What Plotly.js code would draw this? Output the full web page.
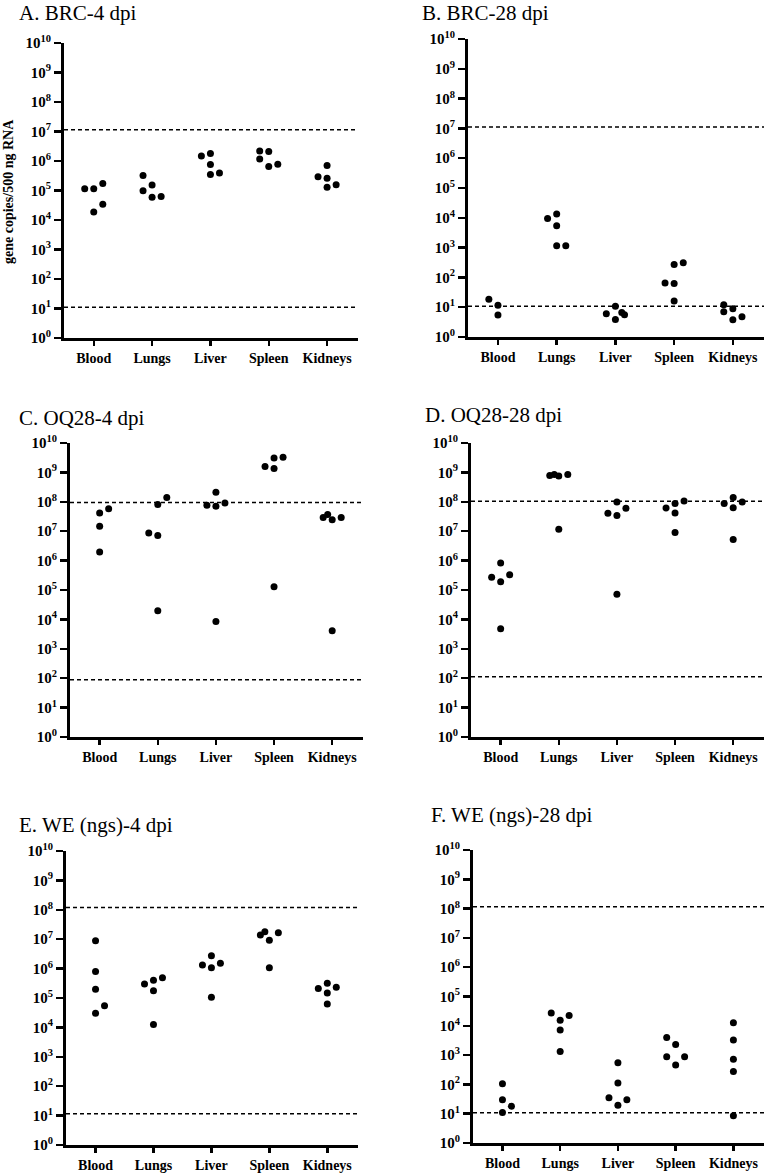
<!DOCTYPE html>
<html>
<head>
<meta charset="utf-8">
<script src="https://cdn.plot.ly/plotly-3.0.1.min.js"></script>
<style>
  body { margin: 0; background: #fff; }
  #chart { width: 767px; height: 1174px; }
</style>
</head>
<body>
<div id="chart"></div>
<script>
// organs on the x axis
var organs = ['Blood', 'Lungs', 'Liver', 'Spleen', 'Kidneys'];
var panelTitles = ['A. BRC-4 dpi', 'B. BRC-28 dpi', 'C. OQ28-4 dpi',
                   'D. OQ28-28 dpi', 'E. WE (ngs)-4 dpi', 'F. WE (ngs)-28 dpi'];

// gene copies per organ (one list per organ)
var valsA = [[1.15e5, 1.15e5, 1.74e5, 1.86e4, 3.4e4],
             [3.2e5, 1.55e5, 9.8e4, 5.9e4, 6.3e4],
             [1.48e6, 1.78e6, 7.6e5, 3.5e5, 3.9e5],
             [2.2e6, 2.1e6, 1.17e6, 6.5e5, 7.8e5],
             [7.1e5, 2.95e5, 2.6e5, 1.29e5, 1.58e5]];
var valsB = [[18.6, 11.7, 5.5],
             [9.5e3, 1.35e4, 5.4e3, 1.15e3, 1.15e3],
             [10.7, 6.0, 6.6, 5.6, 3.9],
             [65, 63, 270, 310, 16],
             [12, 7.1, 8.9, 3.8, 4.8]];
var valsC = [[4.2e7, 5.8e7, 1.48e7, 1.95e6],
             [8.1e7, 1.41e8, 8.7e6, 7.2e6, 1.95e4],
             [2.1e8, 7.6e7, 7.1e7, 9.1e7, 8.5e3],
             [1.58e9, 3.1e9, 3.3e9, 1.35e9, 1.29e5],
             [2.9e7, 3.7e7, 2.45e7, 2.9e7, 4.1e3]];
var valsD = [[2.7e5, 8.3e5, 1.9e5, 3.3e5, 4.8e3],
             [7.9e8, 8.5e8, 7.6e8, 8.5e8, 1.17e7],
             [9.8e7, 4.1e7, 3.4e7, 6.0e7, 7.1e4],
             [6.2e7, 8.7e7, 1.07e8, 4.2e7, 9.1e6],
             [8.7e7, 1.41e8, 6.3e7, 9.8e7, 5.2e6]];
var valsE = [[8.9e6, 7.9e5, 2.0e5, 5.4e4, 3.0e4],
             [3.0e5, 4.0e5, 4.9e5, 1.78e5, 1.26e4],
             [2.75e6, 1.32e6, 1.07e6, 1.51e6, 1.07e5],
             [1.38e7, 1.78e7, 9.3e6, 1.66e7, 1.07e6],
             [2.1e5, 3.2e5, 2.3e5, 1.48e5, 6.2e4]];
var valsF = [[105, 30, 18, 11],
             [2.75e4, 1.55e4, 2.24e4, 7.2e3, 1.32e3],
             [550, 112, 35, 30, 19.5],
             [4.0e3, 2.3e3, 870, 870, 457],
             [1.26e4, 3.3e3, 720, 275, 8.5]];

// column slot of each dot inside its organ (-1 left, 0 centre, 1 right)
var slotA = [[-1, 0, 1, 0, 1], [-1, 0, -1, 0, 1], [-1, 0, 0, 0, 1], [-1, 0, -1, 0, 1], [0, -1, 0, 0, 1]];
var slotB = [[-1, 0, 0], [-1, 0, 0, 0, 1], [0, -1, 0.7, 1, 0], [-1, 0, 0, 1, 0], [-1, -1, 0, 0, 1]];
var slotC = [[0, 1, 0, 0], [0, 1, -1, 0, 0], [0, -1, 0, 1, 0], [-1, 0, 1, 0, 0], [-1, -0.5, 0, 1, 0]];
var slotD = [[-1, 0, 0, 1, 0], [-1, -0.5, 0, 1, 0], [0, -1, 0, 1, 0], [-1, 0, 1, 0, 0], [-1, 0, 0, 1, 0]];
var slotE = [[0, 0, 0, 1, 0], [-1, 0, 1, 0, 0], [0, -1, 0, 1, 0], [-1, -0.5, 0, 1, 0], [-1, 0, 1, 0, 0]];
var slotF = [[0, 0, 1, 0], [-1, 0, 1, 0, 0], [0, 0, -1, 1, 0], [-1, 0, -1, 1, 0], [0, 0, 0, 0, 0]];

// dashed reference lines (upper, lower)
var limitsA = [1.15e7, 11];
var limitsB = [1.12e7, 10.7];
var limitsC = [9.5e7, 89];
var limitsD = [1.05e8, 112];
var limitsE = [1.2e8, 11.5];
var limitsF = [1.15e8, 10.7];

var allVals = [valsA, valsB, valsC, valsD, valsE, valsF];
var allSlots = [slotA, slotB, slotC, slotD, slotE, slotF];
var allLimits = [limitsA, limitsB, limitsC, limitsD, limitsE, limitsF];

// plot areas in pixels: [left, right, top, bottom]
var boxes = [[64, 358, 43, 338], [468, 764, 39, 337],
             [70, 363, 443, 737], [471, 764, 443, 737],
             [66, 358, 851, 1145], [473, 764, 850, 1143]];
var titlePos = [[17, 13], [420, 13], [17, 418], [423, 415], [17, 825], [429, 815]];

var W = 767, H = 1174;
var SLOT = 0.155;
var XR = [-0.51, 4.53];
var serif = 'Liberation Serif, Times New Roman, serif';

var yTickVals = [], yTickText = [];
for (var i = 0; i <= 10; i++) {
  yTickVals.push(Math.pow(10, i));
  yTickText.push('<b>10<sup>' + i + '</sup></b>');
}

var data = [];
var layout = {
  width: W, height: H,
  margin: {l: 0, r: 0, t: 0, b: 0},
  paper_bgcolor: '#fff', plot_bgcolor: '#fff',
  showlegend: false,
  font: {family: serif, color: '#000'},
  annotations: []
};

for (var p = 0; p < 6; p++) {
  var sfx = p === 0 ? '' : String(p + 1);
  var xs = [], ys = [];
  for (var o = 0; o < organs.length; o++) {
    for (var k = 0; k < allVals[p][o].length; k++) {
      xs.push(o + allSlots[p][o][k] * SLOT);
      ys.push(allVals[p][o][k]);
    }
  }
  data.push({
    x: xs, y: ys, type: 'scatter', mode: 'markers',
    marker: {color: '#000', size: 7},
    xaxis: 'x' + sfx, yaxis: 'y' + sfx, cliponaxis: false
  });
  allLimits[p].forEach(function (v) {
    data.push({
      x: XR, y: [v, v], type: 'scatter', mode: 'lines',
      line: {color: '#000', width: 1.5, dash: '4px,3px'},
      xaxis: 'x' + sfx, yaxis: 'y' + sfx, hoverinfo: 'skip'
    });
  });

  var b = boxes[p];
  layout['xaxis' + sfx] = {
    domain: [b[0] / W, b[1] / W],
    anchor: 'y' + sfx,
    range: XR,
    tickvals: [0, 1, 2, 3, 4],
    ticktext: organs.map(function (s) { return '<b>' + s + '</b>'; }),
    tickfont: {family: serif, size: 14, color: '#000'},
    ticks: 'outside', ticklen: 5, tickwidth: 2.5, tickcolor: '#000',
    showline: true, linewidth: 3, linecolor: '#000',
    showgrid: false, zeroline: false, fixedrange: true
  };
  layout['yaxis' + sfx] = {
    domain: [1 - b[3] / H, 1 - b[2] / H],
    anchor: 'x' + sfx,
    type: 'log', range: [0, 10],
    tickvals: yTickVals, ticktext: yTickText,
    tickfont: {family: serif, size: 15, color: '#000'},
    ticks: 'outside', ticklen: 7, tickwidth: 2.5, tickcolor: '#000',
    showline: true, linewidth: 3, linecolor: '#000',
    showgrid: false, zeroline: false, fixedrange: true
  };
  layout.annotations.push({
    text: panelTitles[p], xref: 'paper', yref: 'paper',
    x: titlePos[p][0] / W, y: 1 - titlePos[p][1] / H,
    xanchor: 'left', yanchor: 'middle', showarrow: false,
    font: {family: serif, size: 21, color: '#000'}
  });
}

layout.annotations.push({
  text: '<b>gene copies/500 ng RNA</b>', xref: 'paper', yref: 'paper',
  x: 8 / W, y: 1 - 192 / H, textangle: -90,
  xanchor: 'center', yanchor: 'middle', showarrow: false,
  font: {family: serif, size: 14, color: '#000'}
});

Plotly.newPlot('chart', data, layout, {displayModeBar: false, staticPlot: true});
</script>
</body>
</html>
